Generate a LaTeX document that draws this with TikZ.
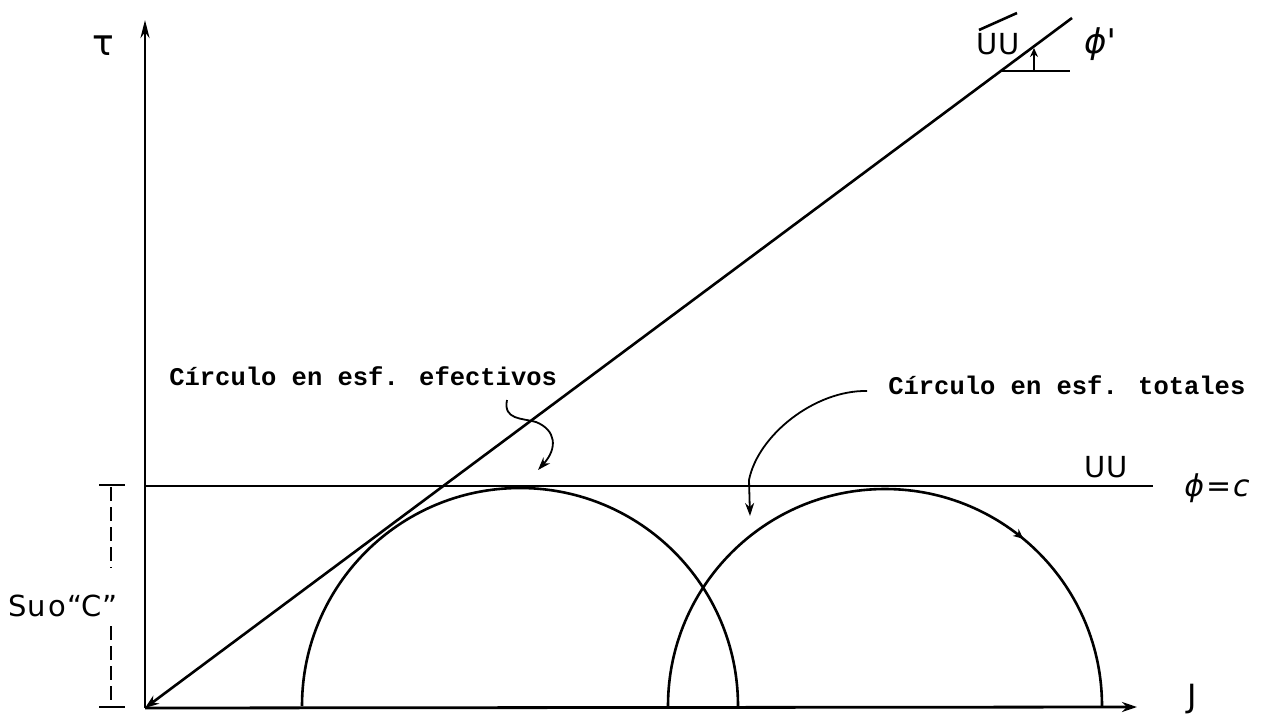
\documentclass[tikz,border=0pt]{standalone}
\usepackage{fontspec}
\newfontfamily\tw{Liberation Mono}
\newfontfamily\hw{DejaVu Sans}
\usetikzlibrary{arrows.meta,decorations.markings}
\begin{document}
\begin{tikzpicture}[x=1pt,y=-1pt,line width=2.6pt,
  axis/.style={line width=2.8pt},
  typed/.style={inner sep=0pt,anchor=base west,font=\tw\bfseries\fontsize{25.5}{30}\selectfont},
  hand/.style={inner sep=0pt,font=\hw\fontsize{29}{32}\selectfont},
  leader/.style={line width=1.8pt},
  tip/.style={-{Stealth[length=13pt,width=9pt]}}]
\useasboundingbox (0,0) rectangle (1286,717);
% coordinates
\coordinate (O) at (145,708);
\coordinate (ytop) at (145,20);
\coordinate (xend) at (1137,707);
\coordinate (Ltop) at (1072,18);
\coordinate (UUa) at (145,486);
\coordinate (UUb) at (1153,486);
% axes
\draw[axis,-{Stealth[length=18pt,width=9pt]}] (O) -- (ytop);
\draw[axis,-{Stealth[length=15pt,width=10pt]}] (O) -- (xend);
% envelope line phi'
\draw[-{Stealth[length=14pt,width=10pt]}] (Ltop) -- (O);
% UU line
\draw (UUa) -- (UUb);
% circles
\draw (302,706) arc[start angle=180,end angle=360,radius=218];
\draw[postaction={decorate,decoration={markings,
   mark=at position 0.72 with {\arrow{Stealth[length=10pt,width=9pt]}}}}]
   (668,706) arc[start angle=180,end angle=360,radius=217];
% Su o C dimension
\coordinate (d1a) at (99,485); \coordinate (d1b) at (125,485);
\coordinate (d2a) at (99,707); \coordinate (d2b) at (125,707);
\draw (d1a) -- (d1b);
\draw (d2a) -- (d2b);
\coordinate (v1) at (111,487); \coordinate (v2) at (111,568);
\coordinate (v3) at (111,626); \coordinate (v4) at (111,705);
\draw[line width=1.2pt,dash pattern=on 14pt off 6pt] (v1) -- (v2);
\draw[line width=1.2pt,dash pattern=on 14pt off 6pt] (v3) -- (v4);
\node[hand] (su) at (63,606) {S\kern1pt u\kern2pt o\kern2pt “C”};
% angle mark phi'
\coordinate (h1) at (1002,71); \coordinate (h2) at (1070,71);
\draw (h1) -- (h2);
\coordinate (a1) at (1034,71); \coordinate (a2) at (1034,48);
\draw[line width=1.6pt,-{Stealth[length=9pt,width=8pt]}] (a1) -- (a2);
% labels
\node[hand] (tau) at (103,46) {\fontsize{36}{36}\selectfont τ};
\node[hand] (sig) at (1192,699) {\fontsize{32}{32}\selectfont J};
\node[hand] (uubar) at (998,44) {UU};
\coordinate (b1) at (979,30); \coordinate (b2) at (1017,13);
\draw (b1) -- (b2);
\node[hand] (phip) at (1100,44) {\fontsize{34}{34}\selectfont\itshape ϕ'};
\node[hand] (uu) at (1106,467) {UU};
\node[hand] (phic) at (1217,488) {\fontsize{30}{30}\selectfont\itshape ϕ\kern2pt=\kern2pt c};
% typed labels and leaders
\node[typed] (eff) at (168,385) {Círculo en esf. efectivos};
\node[typed] (tot) at (887,394) {Círculo en esf. totales};
\coordinate (e0) at (507,400);
\coordinate (e1) at (538,470);
\draw[leader,tip] (e0) .. controls (503,420) and (522,418) .. (536,422)
   .. controls (556,430) and (558,448) .. (e1);
\coordinate (t0) at (867,391);
\coordinate (t1) at (750,516);
\draw[leader,tip] (t0) .. controls (815,390) and (758,435) .. (749,480) -- (t1);
\end{tikzpicture}
\end{document}
